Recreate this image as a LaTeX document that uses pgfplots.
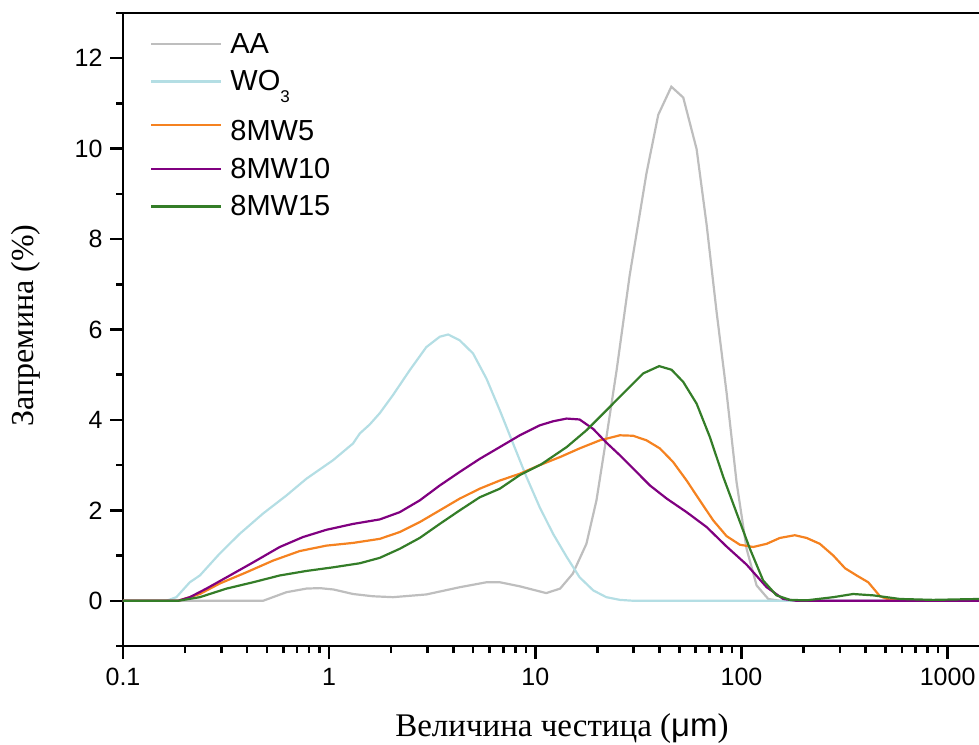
\documentclass[border=0pt]{standalone}
\usepackage{fontspec}
\setmainfont{Liberation Serif}
\newfontfamily\arial{Liberation Sans}
\usepackage{pgfplots}
\pgfplotsset{compat=1.18}
\definecolor{cAA}{RGB}{190,190,190}
\definecolor{cWO}{RGB}{180,222,228}
\definecolor{cMWa}{RGB}{245,130,32}
\definecolor{cMWb}{RGB}{128,0,128}
\definecolor{cMWc}{RGB}{52,125,40}
\begin{document}
\begin{tikzpicture}
\useasboundingbox (-123pt,-98pt) rectangle (856pt,646pt);
\begin{axis}[
 scale only axis, width=856pt, height=633pt,
 xmode=log, xmin=0.1, xmax=1420, ymin=-1, ymax=13,
 axis x line*=box, axis y line*=left,
 axis line style={line width=2.5pt},
 xtick={0.1,1,10,100,1000}, xticklabels={0.1,1,10,100,1000},
 minor xtick={0.2,0.3,0.4,0.5,0.6,0.7,0.8,0.9,2,3,4,5,6,7,8,9,20,30,40,50,60,70,80,90,200,300,400,500,600,700,800,900},
 ytick={0,2,4,6,8,10,12}, yticklabels={0,2,4,6,8,10,12},
 minor ytick={-1,1,3,5,7,9,11,13},
 xtick pos=bottom, ytick pos=left,
 tick align=outside,
 major tick length=13pt, minor tick length=7pt,
 every tick/.style={black, line width=2.5pt},
 tick label style={font=\arial\fontsize{25}{28}\selectfont},
 xticklabel style={yshift=-6pt},
 yticklabel style={xshift=-4pt},
 xlabel={Величина честица ({\arial μm})},
 ylabel={Запремина (\%)},
 xlabel style={font=\fontsize{33}{36}\selectfont, at={(axis description cs:0.5,0)}, anchor=base, yshift=-90pt, xshift=11pt},
 ylabel style={font=\fontsize{32}{35}\selectfont, at={(axis description cs:0,0.5)}, anchor=center, yshift=97pt, xshift=4pt},
 legend style={at={(axis description cs:0,1)}, anchor=north west, xshift=27pt, yshift=-20pt,
   draw=none, fill=none, inner sep=0pt, font=\arial\fontsize{29}{32}\selectfont,
   row sep=16pt, column sep=8pt, nodes={inner sep=0pt}},
 legend cell align=left,
 legend image code/.code={\draw[#1] (0pt,0pt) -- (70pt,0pt);},
 every axis plot/.append style={line width=2.2pt},
]
\addplot[cAA] coordinates {(0.1,0) (0.478,0) (0.621,0.19) (0.776,0.27) (0.90,0.28) (1.05,0.25) (1.306,0.15) (1.63,0.10) (2.04,0.08) (2.96,0.14) (4.30,0.30) (5.80,0.41) (6.73,0.41) (8.41,0.32) (11.3,0.17) (13.2,0.27) (15.2,0.60) (17.7,1.26) (19.8,2.22) (22.1,3.60) (24.8,5.10) (28.7,7.20) (34.6,9.45) (39.5,10.75) (45.7,11.37) (52.2,11.13) (60.6,9.99) (67.8,8.31) (75.7,6.40) (84.7,4.60) (94.7,2.62) (105.9,1.15) (118.4,0.34) (134.9,0.04) (153.6,0) (1420,0)};
\addlegendentry{AA}
\addplot[cWO] coordinates {(0.1,0) (0.1625,0) (0.1815,0.08) (0.211,0.41) (0.236,0.56) (0.294,1.04) (0.368,1.48) (0.478,1.93) (0.621,2.33) (0.776,2.70) (1.045,3.11) (1.306,3.48) (1.408,3.70) (1.574,3.90) (1.761,4.15) (2.04,4.55) (2.46,5.10) (2.96,5.61) (3.44,5.84) (3.78,5.89) (4.30,5.76) (4.99,5.47) (5.80,4.91) (6.73,4.21) (7.80,3.48) (9.06,2.74) (10.5,2.07) (12.2,1.48) (14.2,0.97) (16.4,0.52) (19.1,0.23) (22.1,0.08) (25.7,0.02) (30,0) (1420,0)};
\addlegendentry{WO\raisebox{-12pt}{\fontsize{17}{20}\selectfont 3}}
\addplot[cMWa] coordinates {(0.1,0) (0.185,0) (0.236,0.15) (0.294,0.38) (0.397,0.63) (0.535,0.89) (0.720,1.10) (0.970,1.22) (1.306,1.28) (1.761,1.37) (2.20,1.52) (2.75,1.74) (3.44,2.00) (4.30,2.26) (5.38,2.48) (6.73,2.66) (8.41,2.81) (10.5,3.00) (13.2,3.18) (16.4,3.37) (20.6,3.55) (25.7,3.66) (29.8,3.65) (34.6,3.55) (40.2,3.37) (46.6,3.07) (54.2,2.66) (62.8,2.22) (72.9,1.78) (84.7,1.43) (98.2,1.24) (114,1.19) (132.5,1.26) (153.6,1.39) (181.5,1.45) (207,1.39) (240,1.26) (279,1.00) (318,0.72) (362,0.56) (412,0.41) (470,0.10) (525,0.02) (600,0.01) (1420,0)};
\addlegendentry{\rule{0pt}{32pt}8MW5}
\addplot[cMWb] coordinates {(0.1,0) (0.185,0) (0.211,0.08) (0.254,0.27) (0.330,0.56) (0.428,0.85) (0.576,1.19) (0.747,1.41) (0.970,1.57) (1.306,1.70) (1.761,1.80) (2.20,1.96) (2.75,2.22) (3.44,2.55) (4.30,2.85) (5.38,3.14) (6.73,3.40) (8.41,3.66) (10.5,3.88) (12.2,3.97) (14.2,4.03) (16.4,4.01) (19.1,3.80) (22.1,3.50) (25.7,3.22) (29.9,2.92) (36.0,2.55) (43.4,2.26) (54.2,1.96) (67.8,1.63) (84.7,1.20) (105.9,0.80) (132.5,0.30) (159.4,0.04) (185,0) (1420,0)};
\addlegendentry{8MW10}
\addplot[cMWc] coordinates {(0.1,0) (0.185,0) (0.236,0.08) (0.318,0.27) (0.428,0.41) (0.576,0.56) (0.776,0.66) (1.045,0.74) (1.408,0.83) (1.761,0.95) (2.20,1.15) (2.75,1.39) (3.44,1.70) (4.30,2.00) (5.38,2.29) (6.73,2.48) (8.41,2.78) (10.7,3.02) (14.2,3.40) (17.7,3.77) (22.1,4.21) (27.7,4.66) (33.4,5.03) (39.9,5.19) (45.8,5.11) (52.2,4.84) (60.6,4.36) (70.3,3.62) (81.6,2.74) (94.6,1.95) (109.9,1.15) (127.4,0.45) (147.9,0.12) (171.8,0.02) (207,0.01) (279,0.08) (348,0.15) (436,0.12) (587,0.04) (851,0.02) (1420,0.04)};
\addlegendentry{8MW15}
\end{axis}
\end{tikzpicture}
\end{document}
